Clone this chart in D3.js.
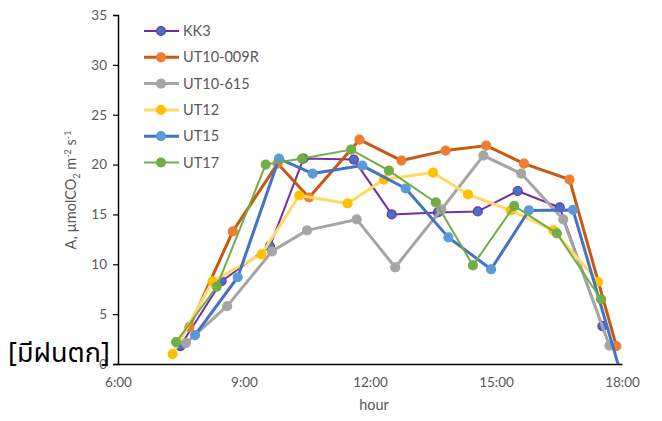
<!DOCTYPE html>
<html>
<head>
<meta charset="utf-8">
<script src="https://cdn.jsdelivr.net/npm/d3@7"></script>
<style>
  html, body { margin: 0; padding: 0; background: #fff; }
  svg { display: block; font-family: Lato, "Open Sans", sans-serif; }
</style>
</head>
<body>
<svg id="chart" width="662" height="421"></svg>
<script>
// Net photosynthesis rate through the day for six lines (rainy day)
const seriesNames = ["KK3", "UT10-009R", "UT10-615", "UT12", "UT15", "UT17"];

const timesKK3  = ["7:29","8:28","9:37","10:25","11:37","12:31","13:37","14:34","15:31","16:31","17:32"];
const valuesKK3 = [1.8, 8.3, 11.8, 20.6, 20.5, 15.0, 15.2, 15.3, 17.35, 15.7, 3.8];

const times009R  = ["7:42","8:44","9:48","10:33","11:45","12:45","13:48","14:46","15:40","16:45","17:52"];
const values009R = [3.7, 13.3, 20.1, 16.7, 22.5, 20.4, 21.4, 21.9, 20.1, 18.5, 1.8];

const times615  = ["7:37","8:36","9:40","10:30","11:41","12:36","13:42","14:42","15:36","16:36","17:42"];
const values615 = [2.1, 5.8, 11.3, 13.4, 14.5, 9.7, 15.5, 20.9, 19.1, 14.5, 1.85];

const timesUT12  = ["7:18","8:15","9:25","10:19","11:28","12:20","13:30","14:20","15:21","16:22","17:26"];
const valuesUT12 = [1.0, 8.3, 11.0, 16.9, 16.1, 18.5, 19.2, 17.0, 15.4, 13.4, 8.25];

const timesUT15  = ["7:50","8:51","9:50","10:38","11:49","12:51","13:52","14:53","15:47","16:50","17:56"];
const valuesUT15 = [2.9, 8.7, 20.6, 19.1, 19.9, 17.6, 12.7, 9.5, 15.4, 15.45, -0.4];

const timesUT17  = ["7:23","8:21","9:31","10:23","11:33","12:27","13:34","14:27","15:26","16:27","17:30"];
const valuesUT17 = [2.2, 7.75, 20.0, 20.6, 21.5, 19.4, 16.2, 9.9, 15.85, 13.1, 6.5];

const xTickHours = [6, 9, 12, 15, 18];
const yTicks = [0, 5, 10, 15, 20, 25, 30, 35];

const lineColors   = ["#7030A0", "#C55A11", "#A5A5A5", "#FFD966", "#4472C4", "#70AD47"];
const markerColors = ["#4472C4", "#ED7D31", "#A5A5A5", "#FFC000", "#5B9BD5", "#70AD47"];
const markerStroke = ["#7030A0", "#ED7D31", "#A5A5A5", "#FFC000", "#5B9BD5", "#70AD47"];
const lineWidths   = [2, 3, 3, 3, 3, 2];

const allTimes  = [timesKK3, times009R, times615, timesUT12, timesUT15, timesUT17];
const allValues = [valuesKK3, values009R, values615, valuesUT12, valuesUT15, valuesUT17];

const toHours = s => { const [h, m] = s.split(":").map(Number); return h + m / 60; };

const series = seriesNames.map((name, i) => ({
  name,
  points: allTimes[i].map((t, j) => ({ x: toHours(t), y: allValues[i][j] }))
}));

const svg = d3.select("#chart");
const plot = { left: 118, right: 622, top: 15, bottom: 364 };

const x = d3.scaleLinear().domain([6, 18]).range([plot.left, plot.right]);
const y = d3.scaleLinear().domain([0, 35]).range([plot.bottom, plot.top]);

svg.append("defs").append("clipPath").attr("id", "plotClip")
  .append("rect")
  .attr("x", plot.left).attr("y", plot.top)
  .attr("width", plot.right - plot.left + 10)
  .attr("height", plot.bottom - plot.top);

const textColor = "#595959";

// y axis
const yAxis = svg.append("g")
  .attr("transform", `translate(${plot.left},0)`)
  .call(d3.axisLeft(y).tickValues(yTicks).tickSize(5).tickPadding(6));
yAxis.select(".domain").attr("stroke", "#000").attr("stroke-width", 1.5);
yAxis.selectAll(".tick line").attr("stroke", "#000").attr("stroke-width", 1.2);
yAxis.selectAll(".tick text")
  .attr("fill", textColor).style("font-size", "13.5px").style("font-family", "Lato, sans-serif");

// x axis
const xAxis = svg.append("g")
  .attr("transform", `translate(0,${plot.bottom})`)
  .call(d3.axisBottom(x).tickValues(xTickHours).tickSize(0).tickPadding(13)
    .tickFormat(h => `${h}:00`));
xAxis.select(".domain").attr("stroke", "#000").attr("stroke-width", 1.5);
xAxis.selectAll(".tick text")
  .attr("fill", textColor).style("font-size", "13.5px").style("font-family", "Lato, sans-serif");

// axis titles
svg.append("text")
  .attr("x", (plot.left + plot.right) / 2 + 4).attr("y", 410)
  .attr("text-anchor", "middle").attr("fill", textColor)
  .style("font-size", "14.5px").text("hour");

const yTitle = svg.append("text")
  .attr("transform", "translate(76,190) rotate(-90)")
  .attr("text-anchor", "middle").attr("fill", textColor)
  .style("font-size", "14.5px");
yTitle.append("tspan").text("A, µmolCO");
yTitle.append("tspan").attr("dy", 4).style("font-size", "9px").text("2");
yTitle.append("tspan").attr("dy", -4).text(" m");
yTitle.append("tspan").attr("dy", -5).style("font-size", "9px").text("-2");
yTitle.append("tspan").attr("dy", 5).text(" s");
yTitle.append("tspan").attr("dy", -5).style("font-size", "9px").text("-1");

// series lines and markers
const line = d3.line().x(d => x(d.x)).y(d => y(d.y));
const gSeries = svg.append("g").attr("clip-path", "url(#plotClip)");

series.forEach((s, i) => {
  const g = gSeries.append("g");
  g.append("path")
    .datum(s.points)
    .attr("d", line)
    .attr("fill", "none")
    .attr("stroke", lineColors[i])
    .attr("stroke-width", lineWidths[i])
    .attr("stroke-linejoin", "round");
  g.selectAll("circle")
    .data(s.points.filter(d => d.y >= 0))
    .join("circle")
    .attr("cx", d => x(d.x))
    .attr("cy", d => y(d.y))
    .attr("r", 4.5)
    .attr("fill", markerColors[i])
    .attr("stroke", markerStroke[i])
    .attr("stroke-width", 1.2);
});

// legend
const legend = svg.append("g");
const legendY0 = 31, legendStep = 26.3;
seriesNames.forEach((name, i) => {
  const ly = legendY0 + i * legendStep;
  legend.append("line")
    .attr("x1", 144).attr("x2", 179).attr("y1", ly).attr("y2", ly)
    .attr("stroke", lineColors[i]).attr("stroke-width", lineWidths[i]);
  legend.append("circle")
    .attr("cx", 161).attr("cy", ly).attr("r", 4.5)
    .attr("fill", markerColors[i]).attr("stroke", markerStroke[i]).attr("stroke-width", 1.2);
  legend.append("text")
    .attr("x", 183).attr("y", ly + 5)
    .attr("fill", textColor).style("font-size", "14.5px")
    .text(name);
});

// condition note
svg.append("text")
  .attr("x", 8).attr("y", 362)
  .attr("fill", "#000")
  .style("font-size", "27px")
  .style("font-family", "'Noto Sans Thai', 'Noto Sans', 'DejaVu Sans', sans-serif")
  .text("[มีฝนตก]");
</script>
</body>
</html>
